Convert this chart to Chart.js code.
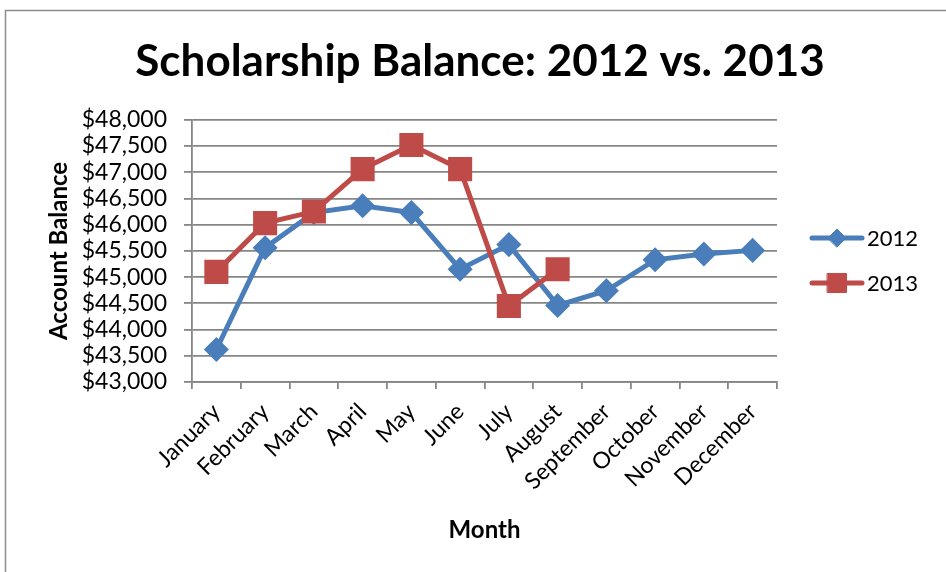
<!DOCTYPE html>
<html>
<head>
<meta charset="utf-8">
<script src="https://cdn.jsdelivr.net/npm/chart.js@4.4.1/dist/chart.umd.min.js"></script>
<style>
  body { margin: 0; background: #fff; }
  #wrap { width: 946px; height: 572px; }
</style>
</head>
<body>
<div id="wrap"><canvas id="chart" width="946" height="572"></canvas></div>
<script>
// values
const months = ['January', 'February', 'March', 'April', 'May', 'June',
  'July', 'August', 'September', 'October', 'November', 'December'];
const balance2012 = [43620, 45560, 46230, 46360, 46230, 45150, 45620, 44460, 44740, 45330, 45440, 45510];
const balance2013 = [45100, 46030, 46250, 47060, 47520, 47060, 44450, 45150, null, null, null, null];
const yMin = 43000;
const yMax = 48000;
const yStep = 500;

const blue = '#4a7ebb';
const red = '#be4b48';
const gridGray = '#868686';

Chart.defaults.font.family = 'Lato';
Chart.defaults.color = '#000';

// outer frame of the chart
const framePlugin = {
  id: 'frame',
  beforeDraw(chart) {
    const ctx = chart.ctx;
    ctx.save();
    ctx.fillStyle = '#fff';
    ctx.fillRect(0, 0, chart.width, chart.height);
    ctx.strokeStyle = '#8c8c8c';
    ctx.lineWidth = 1.5;
    ctx.strokeRect(5.5, 10.5, chart.width + 10, chart.height + 10);
    ctx.restore();
  }
};

// legend with a line through the marker, like the original
const lineLegend = {
  id: 'lineLegend',
  afterDraw(chart) {
    const ctx = chart.ctx;
    const rows = [238, 283];
    chart.data.datasets.forEach((ds, i) => {
      const y = rows[i];
      ctx.save();
      ctx.strokeStyle = ds.borderColor;
      ctx.lineWidth = 5;
      ctx.lineCap = 'round';
      ctx.beginPath();
      ctx.moveTo(812, y);
      ctx.lineTo(862, y);
      ctx.stroke();
      ctx.fillStyle = ds.pointBackgroundColor;
      ctx.strokeStyle = ds.pointBorderColor;
      ctx.lineWidth = 1;
      Chart.helpers.drawPoint(ctx, {
        pointStyle: ds.pointStyle,
        rotation: 0,
        borderWidth: 1,
        radius: ds.pointRadius
      }, 837, y);
      ctx.fillStyle = '#000';
      ctx.font = '22px Lato';
      ctx.textBaseline = 'middle';
      ctx.textAlign = 'left';
      ctx.fillText(ds.label, 867, y + 1);
      ctx.restore();
    });
  }
};

new Chart(document.getElementById('chart'), {
  type: 'line',
  data: {
    labels: months,
    datasets: [{
      label: '2012',
      data: balance2012,
      borderColor: blue,
      backgroundColor: blue,
      pointBackgroundColor: blue,
      pointBorderColor: blue,
      borderWidth: 5,
      pointStyle: 'rectRot',
      pointRadius: 9,
      pointHoverRadius: 9,
      tension: 0,
      order: 1
    }, {
      label: '2013',
      data: balance2013,
      borderColor: red,
      backgroundColor: red,
      pointBackgroundColor: red,
      pointBorderColor: red,
      borderWidth: 5,
      pointStyle: 'rect',
      pointRadius: 13.5,
      pointHoverRadius: 13.5,
      tension: 0,
      order: 0
    }]
  },
  options: {
    responsive: false,
    animation: false,
    clip: false,
    layout: { padding: { left: 14, right: 0, top: 0, bottom: 0 } },
    plugins: {
      legend: { display: false },
      tooltip: { enabled: false },
      title: {
        display: true,
        text: 'Scholarship Balance: 2012 vs. 2013',
        font: { size: 44, weight: 'bold' },
        color: '#000',
        padding: { top: 35, bottom: 32 }
      }
    },
    scales: {
      x: {
        offset: true,
        afterFit(scale) { scale.height = 190; },
        grid: {
          offset: true,
          drawOnChartArea: false,
          drawTicks: true,
          tickLength: 7,
          color: gridGray,
          lineWidth: 1.8
        },
        border: { display: true, color: gridGray, width: 1.8 },
        ticks: {
          minRotation: 45,
          maxRotation: 45,
          autoSkip: false,
          padding: 9,
          font: { size: 23 }
        },
        title: {
          display: true,
          text: 'Month',
          font: { size: 24, weight: 'bold' },
          padding: { top: 0, bottom: 27 }
        }
      },
      y: {
        min: yMin,
        max: yMax,
        afterFit(scale) { scale.width = 178; },
        grid: {
          color: gridGray,
          lineWidth: 1.8,
          tickLength: 8
        },
        border: { display: true, color: gridGray, width: 1.8 },
        ticks: {
          stepSize: yStep,
          autoSkip: false,
          padding: 17,
          font: { size: 23, lineHeight: 1 },
          callback: v => '$' + v.toLocaleString('en-US')
        },
        title: {
          display: true,
          text: 'Account Balance',
          font: { size: 24, weight: 'bold' },
          padding: { top: 31, bottom: 0 }
        }
      },
      // empty right axis that only reserves room for the legend
      legendSpace: {
        type: 'linear',
        position: 'right',
        display: true,
        afterFit(scale) { scale.width = 169; },
        grid: { display: false },
        border: { display: false },
        ticks: { display: false }
      }
    }
  },
  plugins: [framePlugin, lineLegend]
});
</script>
</body>
</html>
